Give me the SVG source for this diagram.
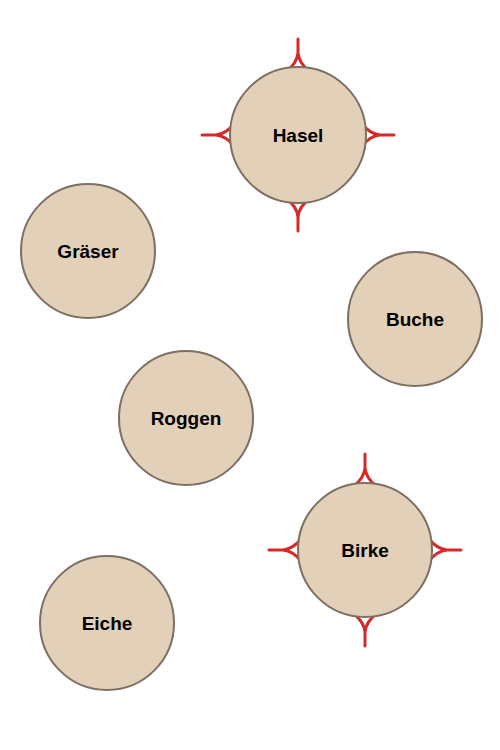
<svg xmlns="http://www.w3.org/2000/svg" xmlns:xlink="http://www.w3.org/1999/xlink" width="500" height="750" viewBox="0 0 500 750">
<style>
.n{fill:#e2d0b8;stroke:#7d6f62;stroke-width:2}
.t{font-family:"Liberation Sans",Arial,sans-serif;font-weight:bold;font-size:19px;fill:#000;text-anchor:middle}
.m{fill:none;stroke:#d42a2a;stroke-width:3;stroke-linecap:round}
</style>
<defs>
<path id="prong" class="m" d="M0,-96 L0,-82 Q-1,-72 -11,-64 M0,-82 Q1,-72 11,-64"/>
</defs>
<rect width="500" height="750" fill="#fff"/>
<g id="connectors"></g>
<g id="Hasel">
<use xlink:href="#prong" transform="translate(298,135)"/>
<use xlink:href="#prong" transform="translate(298,135) rotate(90)"/>
<use xlink:href="#prong" transform="translate(298,135) rotate(180)"/>
<use xlink:href="#prong" transform="translate(298,135) rotate(270)"/>
<circle class="n" cx="298" cy="135" r="68"/>
<text class="t" x="298" y="142">Hasel</text>
</g>
<g id="Graeser">
<circle class="n" cx="88" cy="251" r="67"/>
<text class="t" x="88" y="258">Gräser</text>
</g>
<g id="Buche">
<circle class="n" cx="415" cy="319" r="67"/>
<text class="t" x="415" y="326">Buche</text>
</g>
<g id="Roggen">
<circle class="n" cx="186" cy="418" r="67"/>
<text class="t" x="186" y="425">Roggen</text>
</g>
<g id="Birke">
<use xlink:href="#prong" transform="translate(365,550)"/>
<use xlink:href="#prong" transform="translate(365,550) rotate(90)"/>
<use xlink:href="#prong" transform="translate(365,550) rotate(180)"/>
<use xlink:href="#prong" transform="translate(365,550) rotate(270)"/>
<circle class="n" cx="365" cy="550" r="67"/>
<text class="t" x="365" y="557">Birke</text>
</g>
<g id="Eiche">
<circle class="n" cx="107" cy="623" r="67"/>
<text class="t" x="107" y="630">Eiche</text>
</g>
</svg>
